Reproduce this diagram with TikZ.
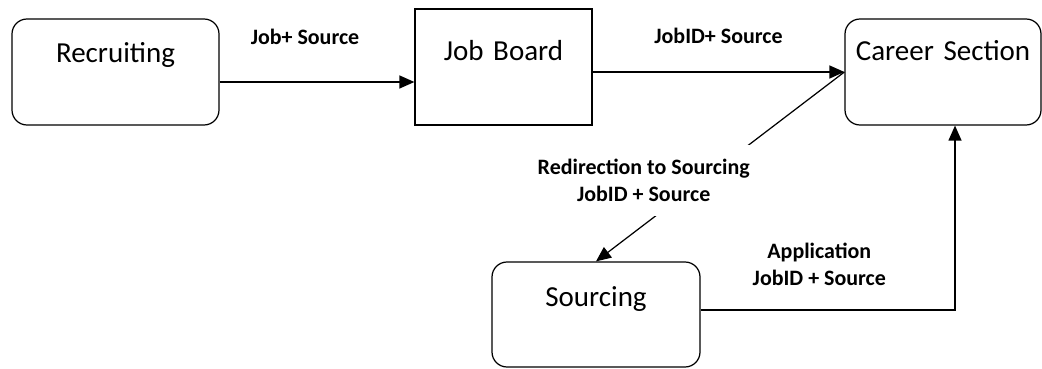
\documentclass[tikz,border=0pt]{standalone}
\usepackage{fontspec}
\setmainfont{Carlito}
\newfontfamily\stagefont{Carlito}[WordSpace=0.6]
\usetikzlibrary{arrows.meta}

\tikzset{
	stage/.style={draw=black, line width=0.7pt, rounded corners=0.3cm, inner sep=0pt, align=center, font=\stagefont\fontsize{16.5}{20}\selectfont},
	board/.style={stage, sharp corners},
	flow/.style={line width=0.7pt, -{Triangle[length=0.3cm,width=0.26cm]}},
	lbl/.style={font=\fontsize{12.5}{15.5}\selectfont\bfseries, align=center, fill=white}
}

\begin{document}
\begin{tikzpicture}
	\useasboundingbox (0,0) rectangle (20.84,7.36);
	\node [stage, text width=4.14cm, text height=0.88cm, text depth=1.24cm] (rec) at (2.31,5.92) {Recruiting};
	\node [board, text width=3.54cm, text height=1.04cm, text depth=1.28cm] (jb) at (10.07,6.02) {Job Board};
	\node [stage, text width=3.92cm, text height=0.84cm, text depth=1.28cm] (cs) at (18.86,5.92) {Career Section};
	\node [stage, text width=4.16cm, text height=0.9cm, text depth=1.2cm] (sour) at (11.92,1.07) {Sourcing};
	% connectors
	\coordinate (r1) at ([yshift=-0.2cm]rec.east);
	\coordinate (s1) at ([yshift=0.09cm]sour.east);
	\coordinate (c1) at ([xshift=0.24cm]cs.south);
	\draw [flow] (r1) -- (r1 -| jb.west) node [lbl, midway, anchor=base, yshift=0.74cm, xshift=-0.24cm] {Job+ Source};
	\draw [flow] (jb.east |- cs.west) -- (cs.west) node [lbl, midway, anchor=base, yshift=0.56cm] {JobID+ Source};
	\draw [flow] (cs.west) -- (sour.north) node [lbl, pos=0.5, inner ysep=0.28cm, xshift=-1.53cm, yshift=-0.28cm] {Redirection to Sourcing\\JobID + Source};
	\draw [flow] (s1) -| (c1) node [lbl, pos=0.25, above=0.35cm, xshift=-0.17cm] {Application\\JobID + Source};
\end{tikzpicture}
\end{document}
